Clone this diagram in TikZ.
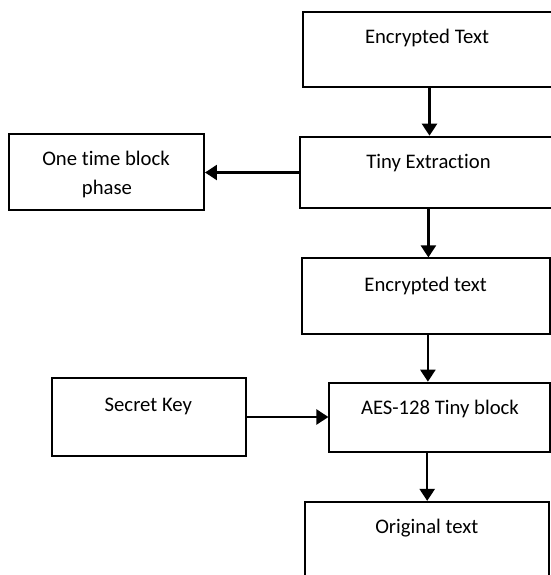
\documentclass[tikz,border=0pt]{standalone}
\usepackage{fontspec}
\setmainfont{Carlito}[Ligatures=NoCommon]
\usetikzlibrary{arrows.meta}
\begin{document}
\begin{tikzpicture}[x=0.5pt,y=-0.5pt,
    box/.style={draw,line width=1pt,inner sep=0pt},
    txt/.style={anchor=base,inner sep=0pt,font=\fontsize{10.35}{14.7}\selectfont},
    arr/.style={-{Triangle[length=6pt,width=7.5pt]},line width=1.2pt}]
      \useasboundingbox (0,0) rectangle (551,575);
      % boxes
      \node[box,minimum width=125.5pt,minimum height=37.5pt] (enc) at (428.5,49.2) {};
      \node[box,minimum width=127pt,minimum height=35.8pt] (tiny) at (427,172.5) {};
      \node[box,minimum width=97.3pt,minimum height=38pt] (otp) at (106.7,172) {};
      \node[box,minimum width=124.2pt,minimum height=37.8pt] (enctext) at (425.9,296.2) {};
      \node[box,minimum width=97pt,minimum height=38.7pt] (key) at (149,417) {};
      \node[box,minimum width=110.3pt,minimum height=34.5pt] (aes) at (439.7,417.2) {};
      \node[box,minimum width=122.2pt,minimum height=44pt] (orig) at (427.2,545.9) {};
      % texts
      \node[txt] (enc-t) at (427,43.3) {Encrypted Text};
      \node[txt] (tiny-t) at (428.5,168.3) {Tiny Extraction};
      \node[txt] (otp-t1) at (106,165) {One time block};
      \node[txt] (otp-t2) at (107,194.3) {phase};
      \node[txt] (enctext-t) at (425.7,291.7) {Encrypted text};
      \node[txt] (key-t) at (148.3,411.7) {Secret Key};
      \node[txt] (aes-t) at (440,414.3) {AES-128 Tiny block};
      \node[txt] (orig-t) at (426.8,533.3) {Original text};
      % arrows
      \draw[arr] ([xshift=0.5pt]enc.south) -- ([xshift=0.5pt]enc.south |- tiny.north);
      \draw[arr] ([xshift=0.7pt]tiny.south) -- ([xshift=0.7pt]tiny.south |- enctext.north);
      \draw[arr] ([xshift=1pt]enctext.south) -- ([xshift=1pt]enctext.south |- aes.north);
      \draw[arr] (orig.north |- aes.south) -- (orig.north);
      \draw[arr] (tiny.west) -- (tiny.west -| otp.east);
      \draw[arr] (key.east) -- (key.east -| aes.west);
\end{tikzpicture}
\end{document}
